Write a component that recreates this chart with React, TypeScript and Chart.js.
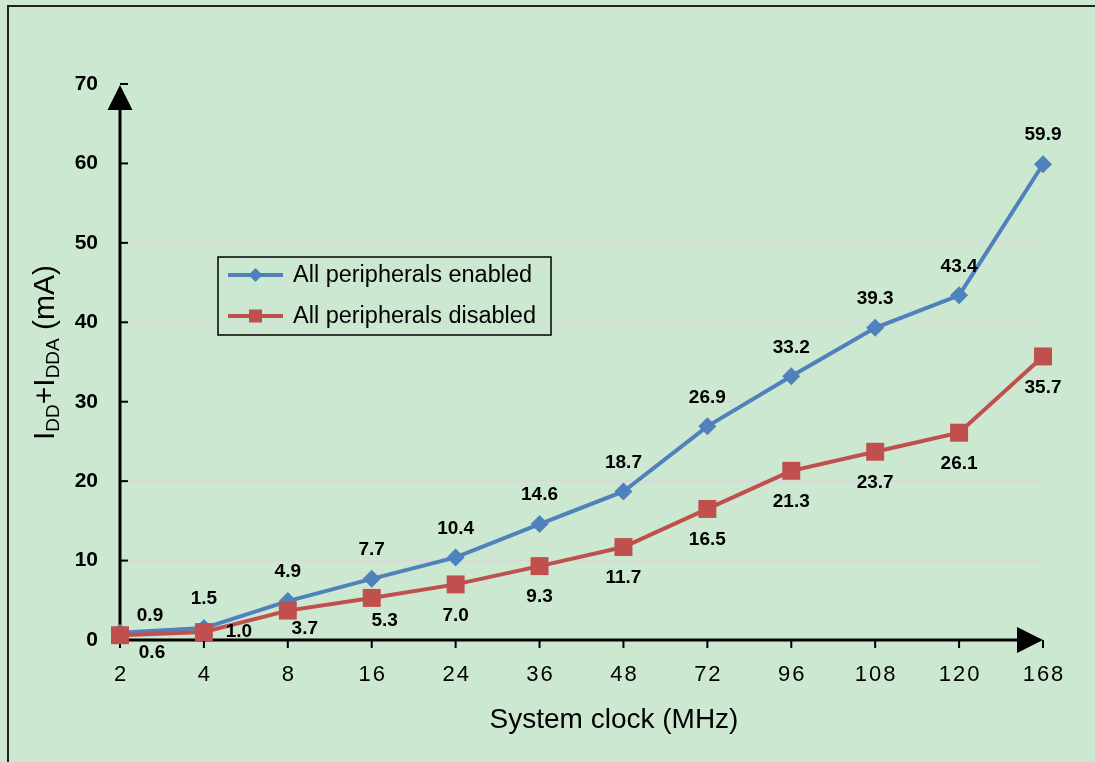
import React, { useEffect, useRef } from 'react';
import { Chart, registerables } from 'chart.js';

Chart.register(...registerables);

// ---------- data ----------
const categories = ['2', '4', '8', '16', '24', '36', '48', '72', '96', '108', '120', '168'];
const enabledValues = [0.9, 1.5, 4.9, 7.7, 10.4, 14.6, 18.7, 26.9, 33.2, 39.3, 43.4, 59.9];
const disabledValues = [0.6, 1.0, 3.7, 5.3, 7.0, 9.3, 11.7, 16.5, 21.3, 23.7, 26.1, 35.7];
const seriesNames = ['All peripherals enabled', 'All peripherals disabled'];
const yMin = 0;
const yMax = 70;
const yStep = 10;
const xTitle = 'System clock (MHz)';
const yTitleParts = [
  { t: 'I', sub: false },
  { t: 'DD', sub: true },
  { t: '+I', sub: false },
  { t: 'DDA', sub: true },
  { t: ' (mA)', sub: false },
];

// ---------- style ----------
const FONT = '"Liberation Sans", Arial, Helvetica, sans-serif';
const BLUE = '#4f81bd';
const RED = '#c0504d';
const BG = '#cde8d0';

// label offsets (style only): default + per-index overrides
const labelOffsets = [
  { def: [0, -29], over: { 0: [30, -17] } as Record<number, number[]> },
  { def: [0, 31], over: { 0: [32, 18], 1: [35, 0], 2: [17, 18], 3: [13, 23] } as Record<number, number[]> },
];

function line(ctx: CanvasRenderingContext2D, x1: number, y1: number, x2: number, y2: number) {
  ctx.beginPath();
  ctx.moveTo(x1, y1);
  ctx.lineTo(x2, y2);
  ctx.stroke();
}

const decorPlugin = {
  id: 'decor',
  beforeDraw(chart: any) {
    const { ctx, width, height } = chart;
    ctx.save();
    ctx.fillStyle = BG;
    ctx.fillRect(0, 0, width, height);
    ctx.strokeStyle = '#222';
    ctx.lineWidth = 2;
    ctx.strokeRect(8, 6, width + 20, height + 20);
    ctx.restore();
  },
  beforeDatasetsDraw(chart: any) {
    const { ctx, chartArea: a } = chart;
    const x = chart.scales.x;
    const y = chart.scales.y;
    ctx.save();
    ctx.strokeStyle = '#000';
    ctx.fillStyle = '#000';
    ctx.lineCap = 'butt';
    // y tick marks
    ctx.lineWidth = 2;
    for (let v = yMin + yStep; v <= yMax; v += yStep) {
      const py = y.getPixelForValue(v);
      line(ctx, a.left, py, a.left + 8, py);
    }
    // x tick marks
    categories.forEach((_, i) => {
      const px = x.getPixelForValue(i);
      line(ctx, px, a.bottom, px, a.bottom + 8);
    });
    // axis lines
    ctx.lineWidth = 3;
    line(ctx, a.left, a.bottom + 1.5, a.left, a.top + 24);
    line(ctx, a.left - 1.5, a.bottom, a.right - 24, a.bottom);
    // arrows
    ctx.beginPath();
    ctx.moveTo(a.left, a.top + 1);
    ctx.lineTo(a.left - 12.5, a.top + 26);
    ctx.lineTo(a.left + 12.5, a.top + 26);
    ctx.closePath();
    ctx.fill();
    ctx.beginPath();
    ctx.moveTo(a.right, a.bottom);
    ctx.lineTo(a.right - 26, a.bottom - 13);
    ctx.lineTo(a.right - 26, a.bottom + 13);
    ctx.closePath();
    ctx.fill();

    // x tick labels
    ctx.font = `22px ${FONT}`;
    (ctx as any).letterSpacing = '2px';
    ctx.textAlign = 'center';
    ctx.textBaseline = 'middle';
    categories.forEach((c, i) => {
      const px = x.getPixelForValue(i);
      ctx.fillText(c, px + 1, a.bottom + 35);
    });
    (ctx as any).letterSpacing = '0px';

    // x title
    ctx.font = `28px ${FONT}`;
    ctx.fillText(xTitle, 614, 720);

    // y title with subscripts
    ctx.save();
    ctx.translate(54, 440);
    ctx.rotate(-Math.PI / 2);
    ctx.textAlign = 'left';
    ctx.textBaseline = 'alphabetic';
    let cx = 0;
    yTitleParts.forEach((p) => {
      ctx.font = p.sub ? `19px ${FONT}` : `30px ${FONT}`;
      ctx.fillText(p.t, cx, p.sub ? 5 : 0);
      cx += ctx.measureText(p.t).width;
    });
    ctx.restore();
    ctx.restore();
  },
  afterDatasetsDraw(chart: any) {
    const { ctx } = chart;
    ctx.save();
    // data labels
    ctx.font = `bold 19px ${FONT}`;
    ctx.fillStyle = '#000';
    ctx.textAlign = 'center';
    ctx.textBaseline = 'middle';
    chart.data.datasets.forEach((ds: any, di: number) => {
      const meta = chart.getDatasetMeta(di);
      const off = labelOffsets[di];
      meta.data.forEach((el: any, i: number) => {
        const o = off.over[i] || off.def;
        ctx.fillText(Number(ds.data[i]).toFixed(1), el.x + o[0], el.y + o[1]);
      });
    });

    // legend
    const bx = 218, by = 257, bw = 333, bh = 78;
    ctx.strokeStyle = '#000';
    ctx.lineWidth = 1.5;
    ctx.strokeRect(bx, by, bw, bh);
    const rows = [by + 18, by + 59];
    chart.data.datasets.forEach((ds: any, di: number) => {
      const ly = rows[di];
      ctx.strokeStyle = ds.borderColor;
      ctx.fillStyle = ds.borderColor;
      ctx.lineWidth = 4;
      line(ctx, bx + 10, ly, bx + 65, ly);
      const mx = bx + 37.5;
      ctx.beginPath();
      if (di === 0) {
        const r = 7;
        ctx.moveTo(mx, ly - r);
        ctx.lineTo(mx + r, ly);
        ctx.lineTo(mx, ly + r);
        ctx.lineTo(mx - r, ly);
        ctx.closePath();
      } else {
        ctx.rect(mx - 6.5, ly - 6.5, 13, 13);
      }
      ctx.fill();
      ctx.fillStyle = '#000';
      ctx.font = `23.5px ${FONT}`;
      ctx.textAlign = 'left';
      ctx.textBaseline = 'middle';
      ctx.fillText(ds.label, bx + 75, ly + 1);
    });
    ctx.restore();
  },
};

export default function App() {
  const canvasRef = useRef<HTMLCanvasElement | null>(null);

  useEffect(() => {
    if (!canvasRef.current) return;
    const chart = new Chart(canvasRef.current, {
      type: 'line',
      data: {
        labels: categories,
        datasets: [
          {
            label: seriesNames[0],
            data: enabledValues,
            borderColor: BLUE,
            backgroundColor: BLUE,
            borderWidth: 4,
            pointStyle: 'rectRot',
            pointRadius: 9,
            pointBorderWidth: 0,
            pointBackgroundColor: BLUE,
            tension: 0,
            clip: false as any,
            order: 1,
          },
          {
            label: seriesNames[1],
            data: disabledValues,
            borderColor: RED,
            backgroundColor: RED,
            borderWidth: 4,
            pointStyle: 'rect',
            pointRadius: 12.7,
            pointBorderWidth: 0,
            pointBackgroundColor: RED,
            tension: 0,
            clip: false as any,
            order: 0,
          },
        ],
      },
      options: {
        animation: false,
        responsive: true,
        maintainAspectRatio: false,
        events: [],
        layout: { padding: { left: 40, right: 52, top: 84, bottom: 0 } },
        plugins: {
          legend: { display: false },
          tooltip: { enabled: false },
          title: { display: false },
        },
        scales: {
          x: {
            type: 'category',
            offset: false,
            grid: { display: false },
            border: { display: false },
            ticks: { display: false },
            title: { display: false },
            afterFit(s: any) {
              s.height = 122;
            },
          },
          y: {
            min: yMin,
            max: yMax,
            ticks: {
              stepSize: yStep,
              color: '#000',
              font: { family: FONT, size: 21, weight: 'bold' },
              padding: 22,
            },
            grid: { color: '#d9d9d9', lineWidth: 1.5, drawTicks: false },
            border: { display: false },
            afterFit(s: any) {
              s.width = 80;
            },
          },
        },
      },
      plugins: [decorPlugin],
    });
    return () => chart.destroy();
  }, []);

  return (
    <div style={{ position: 'fixed', left: 0, top: 0, width: '1095px', height: '762px' }}>
      <canvas ref={canvasRef} />
    </div>
  );
}
